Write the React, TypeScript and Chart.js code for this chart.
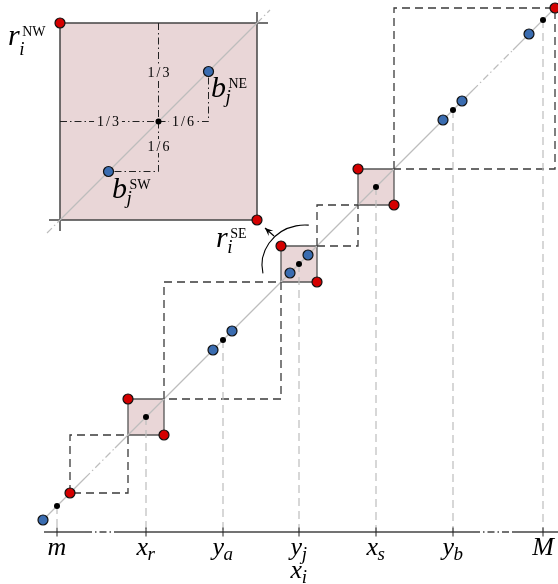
import React, { useEffect, useRef } from 'react';
import { Chart, registerables } from 'chart.js';

Chart.register(...registerables);

// ---- data (diagram units, y = x is the diagonal) ----
const TICK_VALUES = [0, 89, 166, 242, 319, 396, 486];
const TICK_MAIN = ['m', 'x', 'y', 'y', 'x', 'y', 'M'];
const TICK_SUB = ['', 'r', 'a', 'j', 's', 'b', ''];
const AXIS_LEVEL = -26;
const AXIS_BREAKS = [-13, 28, 58, 416, 456, 501];
const DIAGONAL_BREAKS = [-16, 28, 58, 416, 456, 501];
const SQUARE_LO = [71, 224, 301];
const SQUARE_HI = [107, 260, 337];
const LINK_LO = [13, 107, 260, 337];
const LINK_HI = [71, 224, 301, 498];
const RED_X = [13, 71, 107, 224, 260, 301, 337, 498, 3, 200];
const RED_Y = [13, 107, 71, 260, 224, 337, 301, 498, 483, 286];
const BLUE_X = [-14, 156, 175, 233, 251, 386, 405, 472, 151.5, 51.5];
const BLUE_Y = [-14, 156, 175, 233, 251, 386, 405, 472, 434.5, 334.5];
const DOT_X = [0, 89, 166, 242, 319, 396, 486, 101.5];
const DOT_Y = [0, 89, 166, 242, 319, 396, 486, 384.5];
const INSET_X = [3, 200];
const INSET_Y = [286, 483];
const INSET_DIAG_X = [-10, 3, 200, 213];
const INSET_EXT = 11;
const FRACTION_TEXT = ['1/3', '1/3', '1/6', '1/6'];
const FRACTION_X = [101.5, 51, 126, 101.5];
const FRACTION_Y = [434, 384.5, 384.5, 360];

const PINK = '#e9d6d7';
const EDGE = '#555555';
const LINK = '#3a3a3a';
const LIGHT = '#bdbdbd';
const DASH = [8, 5];
const DASHDOT = [7, 3, 1.5, 3];

type P = { x: number; y: number | null };

const gap = (x: number): P => ({ x, y: null });

function buildDatasets() {
  const ds: any[] = [];
  const lineBase = {
    type: 'line',
    showLine: true,
    pointRadius: 0,
    pointHoverRadius: 0,
    tension: 0,
    spanGaps: false,
    fill: false,
  };

  // points (on top)
  ds.push({
    type: 'line', showLine: false,
    data: DOT_X.map((x, i) => ({ x, y: DOT_Y[i] })),
    pointRadius: 3, pointBorderWidth: 0, pointBackgroundColor: '#000', pointBorderColor: '#000',
  });
  ds.push({
    type: 'line', showLine: false,
    data: BLUE_X.map((x, i) => ({ x, y: BLUE_Y[i] })),
    pointRadius: 5, pointBorderWidth: 1.2, pointBackgroundColor: '#3a6cb0', pointBorderColor: '#111',
  });
  ds.push({
    type: 'line', showLine: false,
    data: RED_X.map((x, i) => ({ x, y: RED_Y[i] })),
    pointRadius: 5, pointBorderWidth: 1.2, pointBackgroundColor: '#d40000', pointBorderColor: '#111',
  });

  // inset connectors (dash-dot)
  const cx = DOT_X[7], cy = DOT_Y[7];
  const conn: P[] = [
    { x: cx, y: INSET_Y[1] }, { x: cx, y: cy }, gap(cx),
    { x: INSET_X[0], y: cy }, { x: cx, y: cy }, gap(cx),
    { x: cx, y: cy }, { x: BLUE_X[8], y: cy }, { x: BLUE_X[8], y: BLUE_Y[8] }, gap(cx),
    { x: cx, y: cy }, { x: cx, y: BLUE_Y[9] }, { x: BLUE_X[9], y: BLUE_Y[9] },
  ];
  ds.push({ ...lineBase, data: conn, borderColor: '#222', borderWidth: 1, borderDash: DASHDOT });

  // axis ticks
  const ticks: P[] = [];
  TICK_VALUES.forEach((v) => {
    ticks.push({ x: v, y: AXIS_LEVEL - 4.5 }, { x: v, y: AXIS_LEVEL + 4.5 }, gap(v));
  });
  ds.push({ ...lineBase, data: ticks, borderColor: '#222', borderWidth: 1 });

  // axis line with dash-dot omitted stretches
  ds.push({
    ...lineBase,
    data: AXIS_BREAKS.map((x) => ({ x, y: AXIS_LEVEL })),
    borderColor: '#444', borderWidth: 1.4,
    segment: { borderDash: (c: any) => (c.p0DataIndex === 1 || c.p0DataIndex === 3 ? DASHDOT : []) },
  });

  // light grey dashed drop lines
  const drops: P[] = [];
  TICK_VALUES.forEach((v) => {
    drops.push({ x: v, y: v }, { x: v, y: AXIS_LEVEL }, gap(v));
  });
  ds.push({ ...lineBase, data: drops, borderColor: LIGHT, borderWidth: 1.2, borderDash: DASH });

  // dashed link boxes
  const links: P[] = [];
  LINK_LO.forEach((a, i) => {
    const b = LINK_HI[i];
    links.push({ x: a, y: a }, { x: a, y: b }, { x: b, y: b }, { x: b, y: a }, { x: a, y: a }, gap(a));
  });
  ds.push({ ...lineBase, data: links, borderColor: LINK, borderWidth: 1.3, borderDash: DASH });

  // diagonal
  ds.push({
    ...lineBase,
    data: DIAGONAL_BREAKS.map((x) => ({ x, y: x })),
    borderColor: LIGHT, borderWidth: 1.2,
    segment: { borderDash: (c: any) => (c.p0DataIndex === 1 || c.p0DataIndex === 3 ? DASHDOT : []) },
  });

  // small squares
  SQUARE_LO.forEach((a, i) => {
    const b = SQUARE_HI[i];
    ds.push({
      ...lineBase,
      data: [{ x: a, y: b }, { x: b, y: b }, { x: b, y: a }, { x: a, y: a }, { x: a, y: b }],
      borderColor: EDGE, borderWidth: 1.3, backgroundColor: PINK, fill: 'shape',
    });
  });

  // inset diagonal
  ds.push({
    ...lineBase,
    data: INSET_DIAG_X.map((x) => ({ x, y: x + (INSET_Y[0] - INSET_X[0]) })),
    borderColor: LIGHT, borderWidth: 1.2,
    segment: { borderDash: (c: any) => (c.p0DataIndex === 0 || c.p0DataIndex === 2 ? DASHDOT : []) },
  });

  // inset corner extensions
  const [x0, x1] = INSET_X;
  const [y0, y1] = INSET_Y;
  ds.push({
    ...lineBase,
    data: [
      { x: x1, y: y1 }, { x: x1 + INSET_EXT, y: y1 }, gap(x1),
      { x: x1, y: y1 }, { x: x1, y: y1 + INSET_EXT }, gap(x1),
      { x: x0, y: y0 }, { x: x0 - INSET_EXT, y: y0 }, gap(x0),
      { x: x0, y: y0 }, { x: x0, y: y0 - INSET_EXT },
    ],
    borderColor: '#444', borderWidth: 1.5,
  });

  // inset square
  ds.push({
    ...lineBase,
    data: [{ x: x0, y: y1 }, { x: x1, y: y1 }, { x: x1, y: y0 }, { x: x0, y: y0 }, { x: x0, y: y1 }],
    borderColor: '#444', borderWidth: 1.5, backgroundColor: PINK, fill: 'shape',
  });

  return ds;
}

const SERIF = '"Liberation Serif", "DejaVu Serif", serif';

function drawMath(
  ctx: CanvasRenderingContext2D,
  px: number, py: number,
  main: string, sub: string, sup: string,
  ms: number, ss: number, ps: number,
  center: boolean, subDy: number, supDy: number,
) {
  ctx.font = `italic ${ms}px ${SERIF}`;
  const mw = ctx.measureText(main).width;
  ctx.font = `italic ${ss}px ${SERIF}`;
  const sw = sub ? ctx.measureText(sub).width : 0;
  const left = center ? px - (mw + sw) / 2 : px;
  ctx.fillStyle = '#000';
  ctx.textAlign = 'left';
  ctx.textBaseline = 'alphabetic';
  ctx.font = `italic ${ms}px ${SERIF}`;
  ctx.fillText(main, left, py);
  if (sub) {
    ctx.font = `italic ${ss}px ${SERIF}`;
    ctx.fillText(sub, left + mw - 0.5, py + subDy);
  }
  if (sup) {
    ctx.font = `${ps}px ${SERIF}`;
    ctx.fillText(sup, left + mw + 2.5, py + supDy);
  }
}

const INSET_LABEL_X = [-49, 154, 55, 159];
const INSET_LABEL_Y = [461, 409, 308, 259];
const INSET_LABEL_MAIN = ['r', 'b', 'b', 'r'];
const INSET_LABEL_SUB = ['i', 'j', 'j', 'i'];
const INSET_LABEL_SUP = ['NW', 'NE', 'SW', 'SE'];
const ARC_CENTER = [248, 241];
const ARC_RADII = [43, 40];
const ARROW_FROM = [217, 270];
const ARROW_TO = [208, 278];

const annotations = {
  id: 'annotations',
  afterDraw(chart: any) {
    const { ctx } = chart;
    const xs = chart.scales.x;
    const ys = chart.scales.y;
    const X = (v: number) => xs.getPixelForValue(v);
    const Y = (v: number) => ys.getPixelForValue(v);
    ctx.save();

    // axis labels
    TICK_VALUES.forEach((v, i) => {
      drawMath(ctx, X(v), Y(AXIS_LEVEL - 23), TICK_MAIN[i], TICK_SUB[i], '', 26, 19, 0, true, 5, 0);
    });
    drawMath(ctx, X(TICK_VALUES[3]), Y(AXIS_LEVEL - 46), 'x', 'i', '', 26, 19, 0, true, 5, 0);

    // inset labels
    INSET_LABEL_MAIN.forEach((m, i) => {
      drawMath(ctx, X(INSET_LABEL_X[i]), Y(INSET_LABEL_Y[i]), m, INSET_LABEL_SUB[i], INSET_LABEL_SUP[i],
        30, 19, 14, false, i === 0 ? 10 : 6, -9);
    });

    // fractions
    ctx.font = `14px ${SERIF}`;
    (ctx as any).letterSpacing = '2px';
    FRACTION_TEXT.forEach((t, i) => {
      const w = ctx.measureText(t).width;
      const px = X(FRACTION_X[i]);
      const py = Y(FRACTION_Y[i]);
      ctx.fillStyle = PINK;
      ctx.fillRect(px - w / 2 - 2, py - 7, w + 4, 14);
      ctx.fillStyle = '#000';
      ctx.textAlign = 'center';
      ctx.textBaseline = 'middle';
      ctx.fillText(t, px + 1, py + 1);
    });
    (ctx as any).letterSpacing = '0px';

    // zoom arc with arrow
    const acx = X(ARC_CENTER[0]);
    const acy = Y(ARC_CENTER[1]);
    const rx = X(ARC_CENTER[0] + ARC_RADII[0]) - acx;
    const ry = Y(ARC_CENTER[1] - ARC_RADII[1]) - acy;
    ctx.strokeStyle = '#000';
    ctx.lineWidth = 1.1;
    ctx.setLineDash([]);
    ctx.beginPath();
    ctx.ellipse(acx, acy, rx, ry, 0, (168 * Math.PI) / 180, (275 * Math.PI) / 180);
    ctx.stroke();
    const fx = X(ARROW_FROM[0]), fy = Y(ARROW_FROM[1]);
    const tx = X(ARROW_TO[0]), ty = Y(ARROW_TO[1]);
    ctx.beginPath();
    ctx.moveTo(fx, fy);
    ctx.lineTo(tx, ty);
    ctx.stroke();
    const ang = Math.atan2(ty - fy, tx - fx);
    const L = 8, W = 3.5;
    ctx.beginPath();
    ctx.moveTo(tx, ty);
    ctx.lineTo(tx - L * Math.cos(ang) + W * Math.sin(ang), ty - L * Math.sin(ang) - W * Math.cos(ang));
    ctx.lineTo(tx - 0.6 * L * Math.cos(ang), ty - 0.6 * L * Math.sin(ang));
    ctx.lineTo(tx - L * Math.cos(ang) - W * Math.sin(ang), ty - L * Math.sin(ang) + W * Math.cos(ang));
    ctx.closePath();
    ctx.fillStyle = '#000';
    ctx.fill();

    ctx.restore();
  },
};

export default function App() {
  const ref = useRef<HTMLCanvasElement>(null);
  useEffect(() => {
    const chart = new Chart(ref.current as HTMLCanvasElement, {
      type: 'line',
      data: { datasets: buildDatasets() },
      options: {
        animation: false,
        responsive: false,
        devicePixelRatio: 1,
        events: [],
        layout: { padding: 0, autoPadding: false },
        plugins: { legend: { display: false }, tooltip: { enabled: false } },
        scales: {
          x: { type: 'linear', min: -57, max: 501, display: false },
          y: { type: 'linear', min: -78, max: 506, display: false },
        },
      },
      plugins: [annotations],
    } as any);
    return () => chart.destroy();
  }, []);
  return (
    <div style={{ position: 'absolute', left: 0, top: 0, width: 558, height: 584, background: '#fff' }}>
      <canvas ref={ref} width={558} height={584} style={{ display: 'block', width: 558, height: 584 }} />
    </div>
  );
}
